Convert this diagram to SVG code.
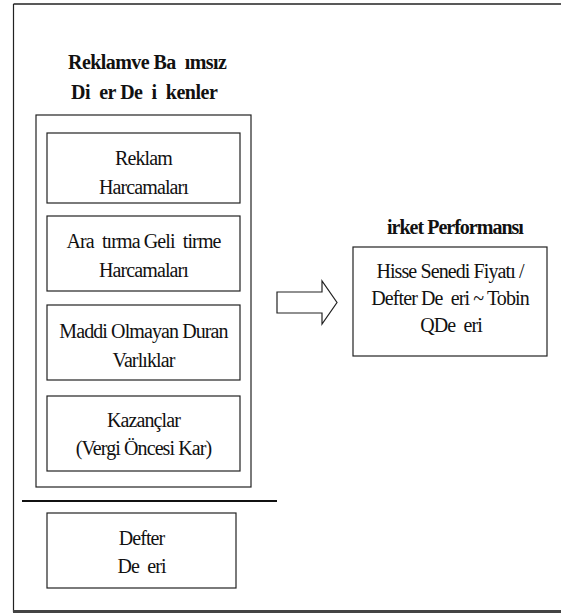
<svg xmlns="http://www.w3.org/2000/svg" width="561" height="615" viewBox="0 0 561 615">
<style>
.box{fill:#fff;stroke:#222;stroke-width:1.2}
.t{font-family:'Liberation Serif','Times New Roman',serif;font-size:20px;letter-spacing:-0.9px;text-anchor:middle;fill:#111}
.b{font-weight:bold}
</style>
<rect x="0" y="0" width="561" height="615" fill="#fff"/>
<g id="frame" fill="none">
<line x1="13.5" y1="4" x2="561" y2="4" stroke="#222" stroke-width="1.5"/>
<line x1="13.5" y1="4" x2="13.5" y2="612" stroke="#222" stroke-width="1.2"/>
<line x1="13" y1="611.5" x2="561" y2="611.5" stroke="#444" stroke-width="3"/>
</g>
<g id="group-left">
<text class="t b" x="147" y="69" textLength="158" lengthAdjust="spacing">Reklamve Ba&#160; ımsız</text>
<text class="t b" x="144" y="99" textLength="146" lengthAdjust="spacing">Di&#160; er De&#160; i&#160; kenler</text>
<rect class="box" x="36" y="115" width="215" height="372"/>
</g>
<g id="n1"><rect class="box" x="47" y="133" width="193" height="70"/>
<text class="t" x="143.5" y="165">Reklam</text><text class="t" x="143.5" y="194">Harcamaları</text></g>
<g id="n2"><rect class="box" x="47" y="216" width="193" height="75"/>
<text class="t" x="143.5" y="248">Ara&#160; tırma Geli&#160; tirme</text><text class="t" x="143.5" y="277">Harcamaları</text></g>
<g id="n3"><rect class="box" x="47" y="305" width="193" height="75"/>
<text class="t" x="143.5" y="338">Maddi Olmayan Duran</text><text class="t" x="143.5" y="367">Varlıklar</text></g>
<g id="n4"><rect class="box" x="47" y="396" width="193" height="75"/>
<text class="t" x="143.5" y="427">Kazançlar</text><text class="t" x="143.5" y="455">(Vergi Öncesi Kar)</text></g>
<g id="sep"><line x1="22" y1="501" x2="277" y2="501" stroke="#111" stroke-width="1.8"/></g>
<g id="n5"><rect class="box" x="47" y="513" width="189" height="75"/>
<text class="t" x="141.5" y="545">Defter</text><text class="t" x="141.5" y="573">De&#160; eri</text></g>
<g id="connectors">
<polygon points="277,292 322,292 322,281 337,302.5 322,324 322,313 277,313" fill="#fff" stroke="#222" stroke-width="1.2"/>
</g>
<g id="n6">
<text class="t b" x="455" y="234" textLength="136" lengthAdjust="spacing">irket Performansı</text>
<rect class="box" x="353" y="247" width="194" height="109"/>
<text class="t" x="450" y="278">Hisse Senedi Fiyatı /</text>
<text class="t" x="450" y="305">Defter De&#160; eri ~ Tobin</text>
<text class="t" x="451" y="332">QDe&#160; eri</text>
</g>
</svg>
